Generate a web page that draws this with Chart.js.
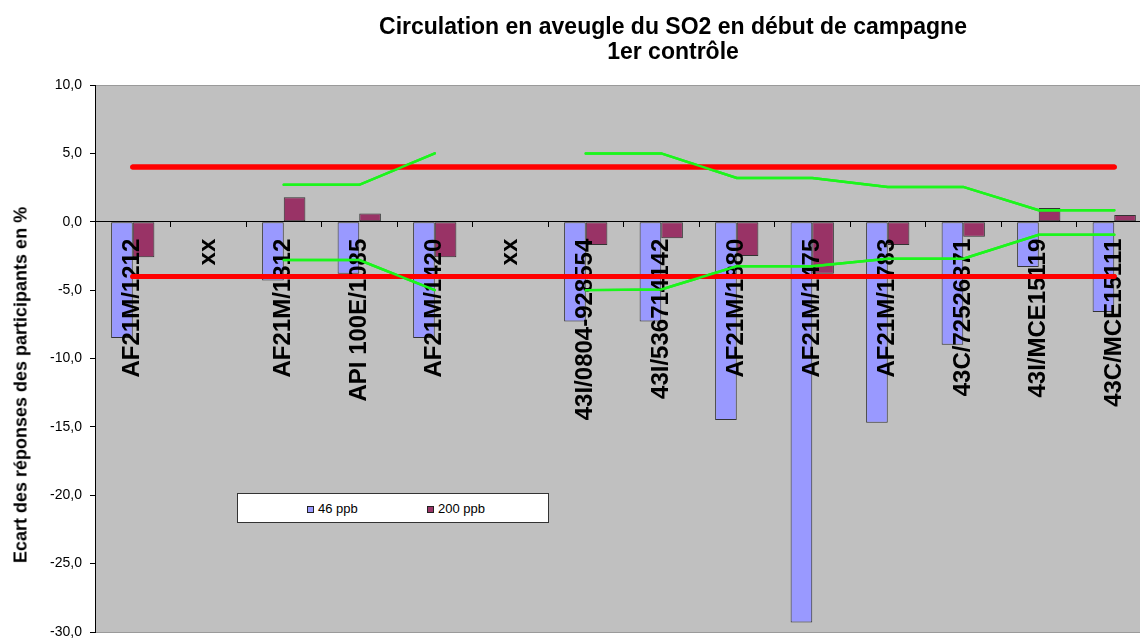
<!DOCTYPE html>
<html lang="fr">
<head>
    <meta charset="UTF-8">
    <title>Circulation en aveugle du SO2</title>
    <script src="https://cdn.jsdelivr.net/npm/chart.js"></script>
    <style>
        * {
            box-sizing: border-box;
            margin: 0;
            padding: 0;
        }

        body {
            width: 1140px;
            height: 638px;
            overflow: hidden;
            background: #fff;
            font-family: Arial, "Liberation Sans", sans-serif;
        }

        .wrap {
            position: relative;
            width: 1175px;
            height: 638px;
        }

        .chart-title {
            position: absolute;
            left: 373px;
            top: 14px;
            width: 600px;
            text-align: center;
            font-weight: bold;
            font-size: 23px;
            line-height: 25px;
            color: #000;
        }

        .y-title {
            position: absolute;
            left: 21px;
            top: 385px;
            transform: translate(-50%, -50%) rotate(-90deg);
            white-space: nowrap;
            font-weight: bold;
            font-size: 18px;
            color: #000;
        }

        .legend {
            position: absolute;
            left: 237px;
            top: 493px;
            width: 312px;
            height: 30px;
            background: #fff;
            border: 1px solid #333;
            font-size: 13px;
            color: #000;
        }

        .legend span {
            position: absolute;
            top: 7px;
            white-space: nowrap;
        }

        .legend i {
            display: inline-block;
            width: 7px;
            height: 7px;
            border: 1px solid #222;
            margin-right: 4px;
            vertical-align: 0px;
        }
    </style>
</head>
<body>
    <div class="wrap">
        <canvas id="chart" width="1175" height="638"></canvas>
        <div class="chart-title">Circulation en aveugle du SO2 en début de campagne<br>1er contrôle</div>
        <div class="y-title">Ecart des réponses des participants en %</div>
        <div class="legend" id="legend"></div>
    </div>

    <script>
        // valeurs
        const categories = ['AF21M/1212', 'xx', 'AF21M/1312', 'API 100E/1085', 'AF21M/1420', 'xx',
            '43I/0804-928554', '43I/536714142', 'AF21M/1880', 'AF21M/1475', 'AF21M/1783',
            '43C/72526371', '43I/MCE15119', '43C/MCE15111'];
        const ppb46 = [-8.5, null, -4.3, -3.8, -8.5, null, -7.3, -7.3, -14.5, -29.3, -14.7, -9.0, -3.3, -6.6];
        const ppb200 = [-2.6, null, 1.8, 0.6, -2.6, null, -1.7, -1.2, -2.5, -3.8, -1.7, -1.1, 1.0, 0.5];
        const limitHigh = [4, 4, 4, 4, 4, 4, 4, 4, 4, 4, 4, 4, 4, 4];
        const limitLow = [-4, -4, -4, -4, -4, -4, -4, -4, -4, -4, -4, -4, -4, -4];
        const greenHigh = [null, null, 2.7, 2.7, 5.0, null, 5.0, 5.0, 3.2, 3.2, 2.55, 2.55, 0.85, 0.85];
        const greenLow = [null, null, -2.8, -2.8, -5.0, null, -5.0, -4.95, -3.25, -3.25, -2.7, -2.7, -0.95, -0.95];
        const yTicks = { min: -30, max: 10, step: 5 };

        // fond gris de la zone de tracé
        const plotBackground = {
            id: 'plotBackground',
            beforeDraw(chart) {
                const { ctx, chartArea: a } = chart;
                ctx.save();
                ctx.fillStyle = '#c0c0c0';
                ctx.fillRect(a.left, a.top, a.right - a.left, a.bottom - a.top);
                ctx.strokeStyle = '#9a9a9a';
                ctx.lineWidth = 1;
                ctx.strokeRect(a.left + 0.5, a.top + 0.5, a.right - a.left, a.bottom - a.top);
                ctx.restore();
            },
            // les courbes passent au-dessus des étiquettes de l'axe
            afterDraw(chart) {
                chart.getSortedVisibleDatasetMetas()
                    .filter(m => m.type === 'line')
                    .forEach(m => m.controller.draw());
            }
        };

        const lineStyle = (data, color, width) => ({
            type: 'line',
            data: data,
            borderColor: color,
            borderWidth: width,
            borderCapStyle: 'round',
            pointRadius: 0,
            fill: false,
            spanGaps: false,
            order: 0
        });

        const ctx = document.getElementById('chart').getContext('2d');
        const chart = new Chart(ctx, {
            type: 'bar',
            data: {
                labels: categories,
                datasets: [
                    {
                        label: '46 ppb',
                        data: ppb46,
                        backgroundColor: '#9999ff',
                        borderColor: '#333',
                        borderWidth: 1,
                        borderSkipped: false,
                        order: 1
                    },
                    {
                        label: '200 ppb',
                        data: ppb200,
                        backgroundColor: '#993366',
                        borderColor: '#333',
                        borderWidth: 1,
                        borderSkipped: false,
                        order: 1
                    },
                    lineStyle(limitHigh, '#ff0000', 5),
                    lineStyle(limitLow, '#ff0000', 5),
                    lineStyle(greenHigh, '#1cf51c', 2.5),
                    lineStyle(greenLow, '#1cf51c', 2.5)
                ]
            },
            options: {
                responsive: false,
                animation: false,
                layout: {
                    padding: { top: 85, left: 0, right: 23, bottom: 6 }
                },
                datasets: {
                    bar: { categoryPercentage: 0.573, barPercentage: 1 }
                },
                plugins: {
                    legend: { display: false },
                    title: { display: false },
                    tooltip: { enabled: false }
                },
                scales: {
                    x: {
                        position: { y: 0 },
                        grid: {
                            drawOnChartArea: false,
                            offset: true,
                            tickLength: 5,
                            color: '#000'
                        },
                        border: { color: '#000', width: 1, z: 1 },
                        ticks: {
                            z: 1,
                            autoSkip: false,
                            minRotation: 90,
                            maxRotation: 90,
                            padding: 12,
                            color: '#000',
                            font: { family: 'Arial, "Liberation Sans", sans-serif', size: 24, weight: 'bold' }
                        }
                    },
                    y: {
                        min: yTicks.min,
                        max: yTicks.max,
                        afterFit(scale) {
                            scale.width = 95;
                            scale.paddingTop = 0;
                            scale.paddingBottom = 0;
                        },
                        grid: {
                            drawOnChartArea: false,
                            tickLength: 5,
                            color: '#000'
                        },
                        border: { color: '#000', width: 1 },
                        ticks: {
                            stepSize: yTicks.step,
                            padding: 8,
                            color: '#000',
                            font: { family: 'Arial, "Liberation Sans", sans-serif', size: 14 },
                            callback: v => v.toFixed(1).replace('.', ',')
                        }
                    }
                }
            },
            plugins: [plotBackground]
        });

        // légende construite à partir des séries de barres
        const legend = document.getElementById('legend');
        const legendX = [69, 189];
        chart.data.datasets.slice(0, 2).forEach((ds, i) => {
            const item = document.createElement('span');
            item.style.left = legendX[i] + 'px';
            item.innerHTML = '<i style="background:' + ds.backgroundColor + '"></i>' + ds.label;
            legend.appendChild(item);
        });
    </script>
</body>
</html>
